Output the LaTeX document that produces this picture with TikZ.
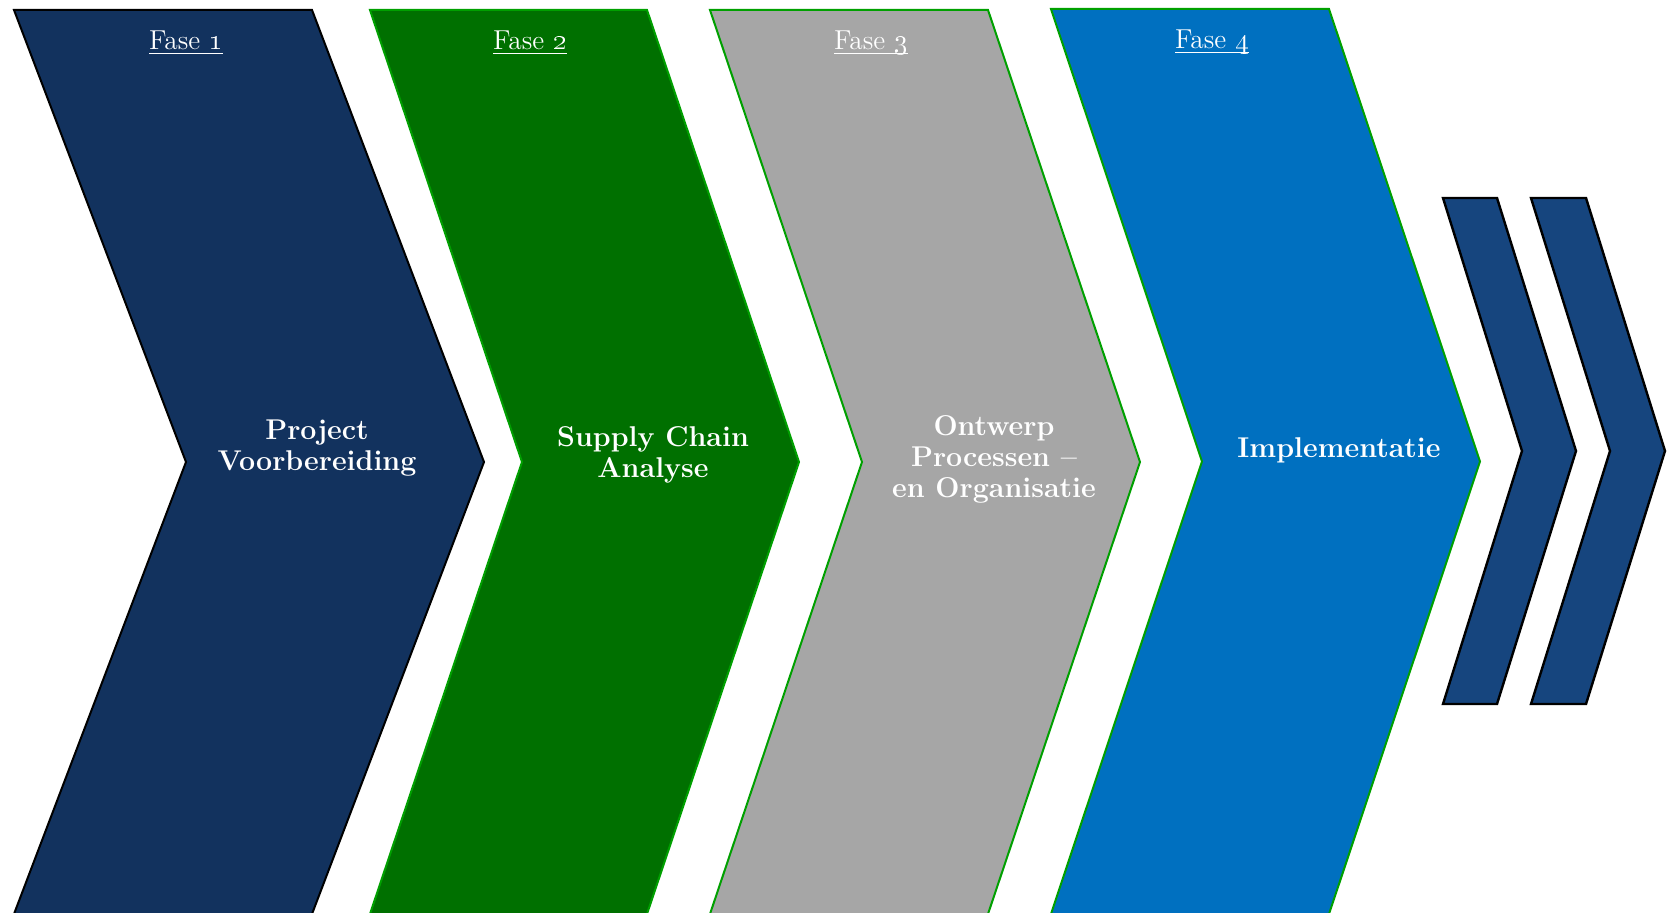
\documentclass[tikz,border=0pt]{standalone}
\usepackage{tikz}
\definecolor{navyfill}{RGB}{18,50,94}
\definecolor{greenfill}{RGB}{0,112,0}
\definecolor{greenline}{RGB}{0,160,0}
\definecolor{grayfill}{RGB}{166,166,166}
\definecolor{bluefill}{RGB}{0,112,192}
\definecolor{darkblue}{RGB}{22,69,126}
\tikzstyle{phase}=[line width=1pt,draw=greenline]
\tikzstyle{moreshape}=[line width=1.2pt,draw=black,fill=darkblue]
\tikzstyle{fasetext}=[text=white,inner sep=0pt,anchor=base,
                      font=\fontsize{13.7}{16}\selectfont]
\tikzstyle{titletext}=[text=white,align=center,inner sep=0pt,
                       font=\bfseries\fontsize{14.3}{15.5}\selectfont]
\newcommand{\fasenr}[1]{\underline{Fase \smash{\oldstylenums{#1}}}}

\begin{document}
\begin{tikzpicture}[x=0.5pt,y=-0.5pt]
    \useasboundingbox (0,0) rectangle (1670,913);
    % left, width, depth, top, bottom
    \newcommand{\chv}[5]{(#1,#4) -- ++(#2,0)
      -- ({#1+#2+#3},{(#4+#5)/2}) -- ({#1+#2},#5) -- (#1,#5)
      -- ({#1+#3},{(#4+#5)/2}) -- cycle}
    \filldraw[phase,draw=black,fill=navyfill] \chv{14}{298}{172}{10}{914};
    \filldraw[phase,fill=greenfill] \chv{370}{277}{152}{10}{914};
    \filldraw[phase,fill=grayfill] \chv{710}{278}{152}{10}{914};
    \filldraw[phase,fill=bluefill] \chv{1051}{278}{151}{9}{914};
    \filldraw[moreshape] \chv{1443}{54}{79}{198}{704};
    \filldraw[moreshape] \chv{1531}{55}{79}{198}{704};
    \node (fase1) at (186,50) [fasetext]{\fasenr{1}};
    \node (fase2) at (530,50) [fasetext]{\fasenr{2}};
    \node (fase3) at (871,50) [fasetext]{\fasenr{3}};
    \node (fase4) at (1212,49) [fasetext]{\fasenr{4}};
    \node (title1) at (317,448) [titletext]{Project\\Voorbereiding};
    \node (title2) at (653,455) [titletext]{Supply Chain\\Analyse};
    \node (title3) at (994,459) [titletext]{Ontwerp\\Processen --\\en Organisatie};
    \node (title4) at (1339,450) [titletext]{Implementatie};
  \end{tikzpicture}
\end{document}
